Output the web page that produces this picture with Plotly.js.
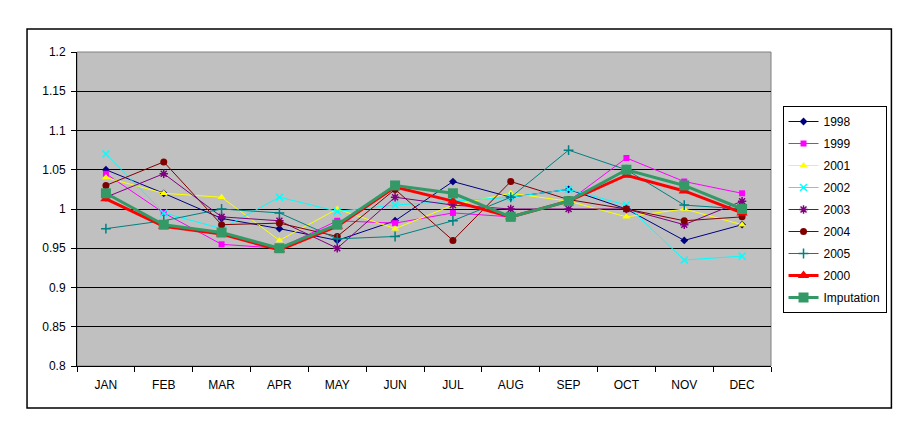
<!DOCTYPE html>
<html>
<head>
<meta charset="utf-8">
<script src="https://cdn.plot.ly/plotly-3.0.1.min.js"></script>
<style>
  body { margin: 0; background: #fff; }
  #chart { width: 918px; height: 429px; }
</style>
</head>
<body>
<div id="chart"></div>
<script>
// months on the x axis
var months = ["JAN", "FEB", "MAR", "APR", "MAY", "JUN", "JUL", "AUG", "SEP", "OCT", "NOV", "DEC"];

// seasonal factors
var y1998 = [1.05, 1.02, 0.988, 0.975, 0.96, 0.985, 1.035, 1.015, 1.025, 1.0, 0.96, 0.98];
var y1999 = [1.045, 0.995, 0.955, 0.95, 0.985, 0.982, 0.995, 0.99, 1.01, 1.065, 1.035, 1.02];
var y2001 = [1.04, 1.02, 1.015, 0.96, 1.0, 0.975, 1.005, 1.02, 1.01, 0.99, 1.0, 0.98];
var y2002 = [1.07, 0.995, 0.975, 1.015, 0.997, 1.005, 1.01, 1.015, 1.025, 1.005, 0.935, 0.94];
var y2003 = [1.015, 1.045, 0.99, 0.985, 0.95, 1.015, 1.005, 1.0, 1.0, 1.0, 0.98, 1.01];
var y2004 = [1.03, 1.06, 0.98, 0.982, 0.965, 1.025, 0.96, 1.035, 1.012, 1.0, 0.985, 0.99];
var y2005 = [0.975, 0.985, 1.0, 0.995, 0.962, 0.965, 0.985, 1.015, 1.075, 1.05, 1.005, 1.0];
var y2000 = [1.013, 0.978, 0.968, 0.948, 0.978, 1.028, 1.01, 0.99, 1.01, 1.043, 1.023, 0.995];
var yImput = [1.02, 0.98, 0.97, 0.95, 0.98, 1.03, 1.02, 0.99, 1.01, 1.05, 1.03, 1.0];

var names = ["1998", "1999", "2001", "2002", "2003", "2004", "2005", "2000", "Imputation"];
var series = [y1998, y1999, y2001, y2002, y2003, y2004, y2005, y2000, yImput];
var colors = ["#000080", "#FF00FF", "#FFFF00", "#00FFFF", "#800080", "#800000", "#008080", "#FF0000", "#339966"];
var symbols = ["diamond", "square", "triangle-up", "x-thin-open", "asterisk-open", "circle", "cross-thin-open", "triangle-up", "square"];
var sizes = [6, 6, 7, 7, 7, 7, 7, 10, 10];
var widths = [1, 1, 1, 1, 1, 1, 1, 3, 3];

var data = [];
for (var i = 0; i < series.length; i++) {
  data.push({
    x: months,
    y: series[i],
    name: names[i],
    legendgroup: names[i],
    type: "scatter",
    mode: "lines+markers",
    line: { color: colors[i], width: widths[i] },
    marker: {
      symbol: symbols[i],
      size: sizes[i],
      color: colors[i],
      line: { color: colors[i], width: symbols[i].indexOf("open") > 0 ? 1.5 : 0 }
    }
  });
}

var layout = {
  width: 918,
  height: 429,
  margin: { l: 77, r: 146.5, t: 52, b: 63 },
  paper_bgcolor: "#ffffff",
  plot_bgcolor: "#C0C0C0",
  font: { family: "Liberation Sans, Arial, sans-serif", size: 12, color: "#000" },
  showlegend: true,
  legend: {
    x: 1.0166, y: 0.828, xanchor: "left", yanchor: "top",
    bgcolor: "#ffffff", bordercolor: "#000", borderwidth: 1,
    font: { size: 12 },
    traceorder: "grouped",
    tracegroupgap: 3,
    itemwidth: 30
  },
  xaxis: {
    type: "category",
    range: [-0.5, 11.5],
    showgrid: false,
    showline: true, linecolor: "#000", linewidth: 1,
    ticks: "outside", ticklen: 5, tickcolor: "#000",
    tickson: "boundaries",
    ticklabelstandoff: 8,
    zeroline: false,
    fixedrange: true
  },
  yaxis: {
    range: [0.8, 1.2],
    tickvals: [0.8, 0.85, 0.9, 0.95, 1, 1.05, 1.1, 1.15, 1.2],
    ticktext: ["0.8", "0.85", "0.9", "0.95", "1", "1.05", "1.1", "1.15", "1.2"],
    showgrid: true, gridcolor: "#000", gridwidth: 1,
    showline: true, linecolor: "#000", linewidth: 1,
    ticks: "outside", ticklen: 5, tickcolor: "#000",
    ticklabelstandoff: 3,
    zeroline: false,
    fixedrange: true
  },
  shapes: [
    // outer chart frame
    { type: "rect", xref: "paper", yref: "paper", x0: -0.072, x1: 1.1735, y0: -0.1338, y1: 1.0732,
      line: { color: "#000", width: 1.5 }, fillcolor: "rgba(0,0,0,0)", layer: "below" },
    // plot area border
    { type: "rect", xref: "paper", yref: "paper", x0: 0, x1: 1, y0: 0, y1: 1,
      line: { color: "#808080", width: 1 }, fillcolor: "rgba(0,0,0,0)", layer: "below" }
  ]
};

Plotly.newPlot("chart", data, layout, { displayModeBar: false, staticPlot: true });
</script>
</body>
</html>
